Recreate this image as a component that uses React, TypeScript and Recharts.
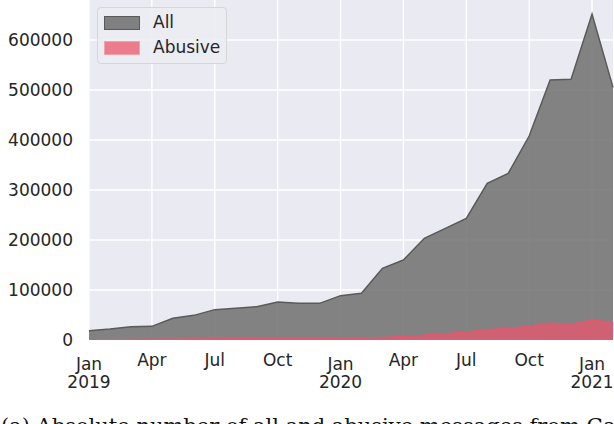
import { AreaChart, Area, XAxis, YAxis, CartesianGrid } from 'recharts';

// one point per month, Jan 2019 .. Feb 2021
const months = [
  '2019-01', '2019-02', '2019-03', '2019-04', '2019-05', '2019-06',
  '2019-07', '2019-08', '2019-09', '2019-10', '2019-11', '2019-12',
  '2020-01', '2020-02', '2020-03', '2020-04', '2020-05', '2020-06',
  '2020-07', '2020-08', '2020-09', '2020-10', '2020-11', '2020-12',
  '2021-01', '2021-02',
];

const allMessages = [
  18600, 22000, 26700, 27300, 43300, 49300, 60700, 63300, 66700, 76000,
  73300, 73300, 88700, 93300, 143300, 160000, 203300, 223300, 243300, 313300,
  333300, 408000, 520000, 521300, 652000, 505300,
];

const abusiveMessages = [
  1000, 1200, 1500, 1800, 2000, 2300, 2600, 2800, 3000, 3200,
  3300, 3400, 3600, 3800, 5500, 7000, 10000, 13000, 16000, 21000,
  23500, 28000, 34000, 32000, 40000, 36000,
];

const yTicks = [0, 100000, 200000, 300000, 400000, 500000, 600000];
const xTicks = [0, 3, 6, 9, 12, 15, 18, 21, 24];
const monthNames = ['Jan', 'Feb', 'Mar', 'Apr', 'May', 'Jun', 'Jul', 'Aug', 'Sep', 'Oct', 'Nov', 'Dec'];

const data = months.map((m, i) => ({
  idx: i,
  month: m,
  all: allMessages[i],
  abusive: abusiveMessages[i],
}));

const FONT = '"DejaVu Sans", sans-serif';
const TEXT = '#262626';
const PINK = '#e8566e';

function XTick(props: any) {
  const { x, payload } = props;
  const [year, mon] = months[payload.value].split('-');
  const name = monthNames[parseInt(mon, 10) - 1];
  if (name === 'Jan') {
    return (
      <g>
        <text x={x} y={370} textAnchor="middle" fontSize={17} fill={TEXT} fontFamily={FONT}>{name}</text>
        <text x={x} y={388} textAnchor="middle" fontSize={17} fill={TEXT} fontFamily={FONT}>{year}</text>
      </g>
    );
  }
  return (
    <text x={x} y={366} textAnchor="middle" fontSize={17} fill={TEXT} fontFamily={FONT}>{name}</text>
  );
}

function YTick(props: any) {
  const { y, payload } = props;
  return (
    <text x={73} y={y} dy="0.36em" textAnchor="end" fontSize={17} fill={TEXT} fontFamily={FONT}>
      {payload.value}
    </text>
  );
}

export default function App() {
  return (
    <div style={{ position: 'absolute', left: 0, top: 0, width: 614, height: 424, overflow: 'hidden', background: '#fff' }}>
      <AreaChart width={614} height={400} data={data} margin={{ top: 0, right: 1, left: 0, bottom: 0 }}>
        <CartesianGrid
          stroke="#ffffff"
          strokeWidth={1.4}
          fill="#eaeaf2"
          fillOpacity={1}
          horizontalValues={yTicks}
          verticalValues={xTicks}
        />
        <XAxis
          dataKey="idx"
          type="number"
          domain={[0, 25]}
          ticks={xTicks}
          interval={0}
          height={60}
          axisLine={false}
          tickLine={false}
          tick={<XTick />}
        />
        <YAxis
          type="number"
          domain={[0, 680000]}
          ticks={yTicks}
          width={89}
          axisLine={false}
          tickLine={false}
          tick={<YTick />}
        />
        <Area
          type="linear"
          dataKey="all"
          stroke="#5a5a5a"
          strokeWidth={1.5}
          fill="#777777"
          fillOpacity={0.9}
          isAnimationActive={false}
        />
        <Area
          type="linear"
          dataKey="abusive"
          stroke={PINK}
          strokeWidth={1}
          fill={PINK}
          fillOpacity={0.75}
          isAnimationActive={false}
        />
      </AreaChart>

      {/* legend */}
      <div
        style={{
          position: 'absolute', left: 97, top: 7, width: 128, height: 55,
          background: 'rgba(236,236,243,0.9)', border: '1px solid #d6d6d6', borderRadius: 4,
          fontFamily: FONT, fontSize: 17, color: TEXT,
        }}
      >
        <div style={{ position: 'absolute', left: 6, top: 8, width: 34, height: 12, background: '#808080', border: '1px solid #5a5a5a' }} />
        <div style={{ position: 'absolute', left: 55, top: 4, lineHeight: '20px' }}>All</div>
        <div style={{ position: 'absolute', left: 6, top: 33, width: 34, height: 12, background: '#ec7b8c', border: '1px solid #f3a0ad' }} />
        <div style={{ position: 'absolute', left: 55, top: 29, lineHeight: '20px' }}>Abusive</div>
      </div>

      {/* caption, cut off by the image edge */}
      <div
        style={{
          position: 'absolute', left: 1, top: 416, whiteSpace: 'nowrap', lineHeight: '21px',
          fontFamily: '"DejaVu Serif", serif', fontSize: 21, color: '#111',
        }}
      >
        (a) Absolute number of all and abusive messages from Gab
      </div>
    </div>
  );
}
